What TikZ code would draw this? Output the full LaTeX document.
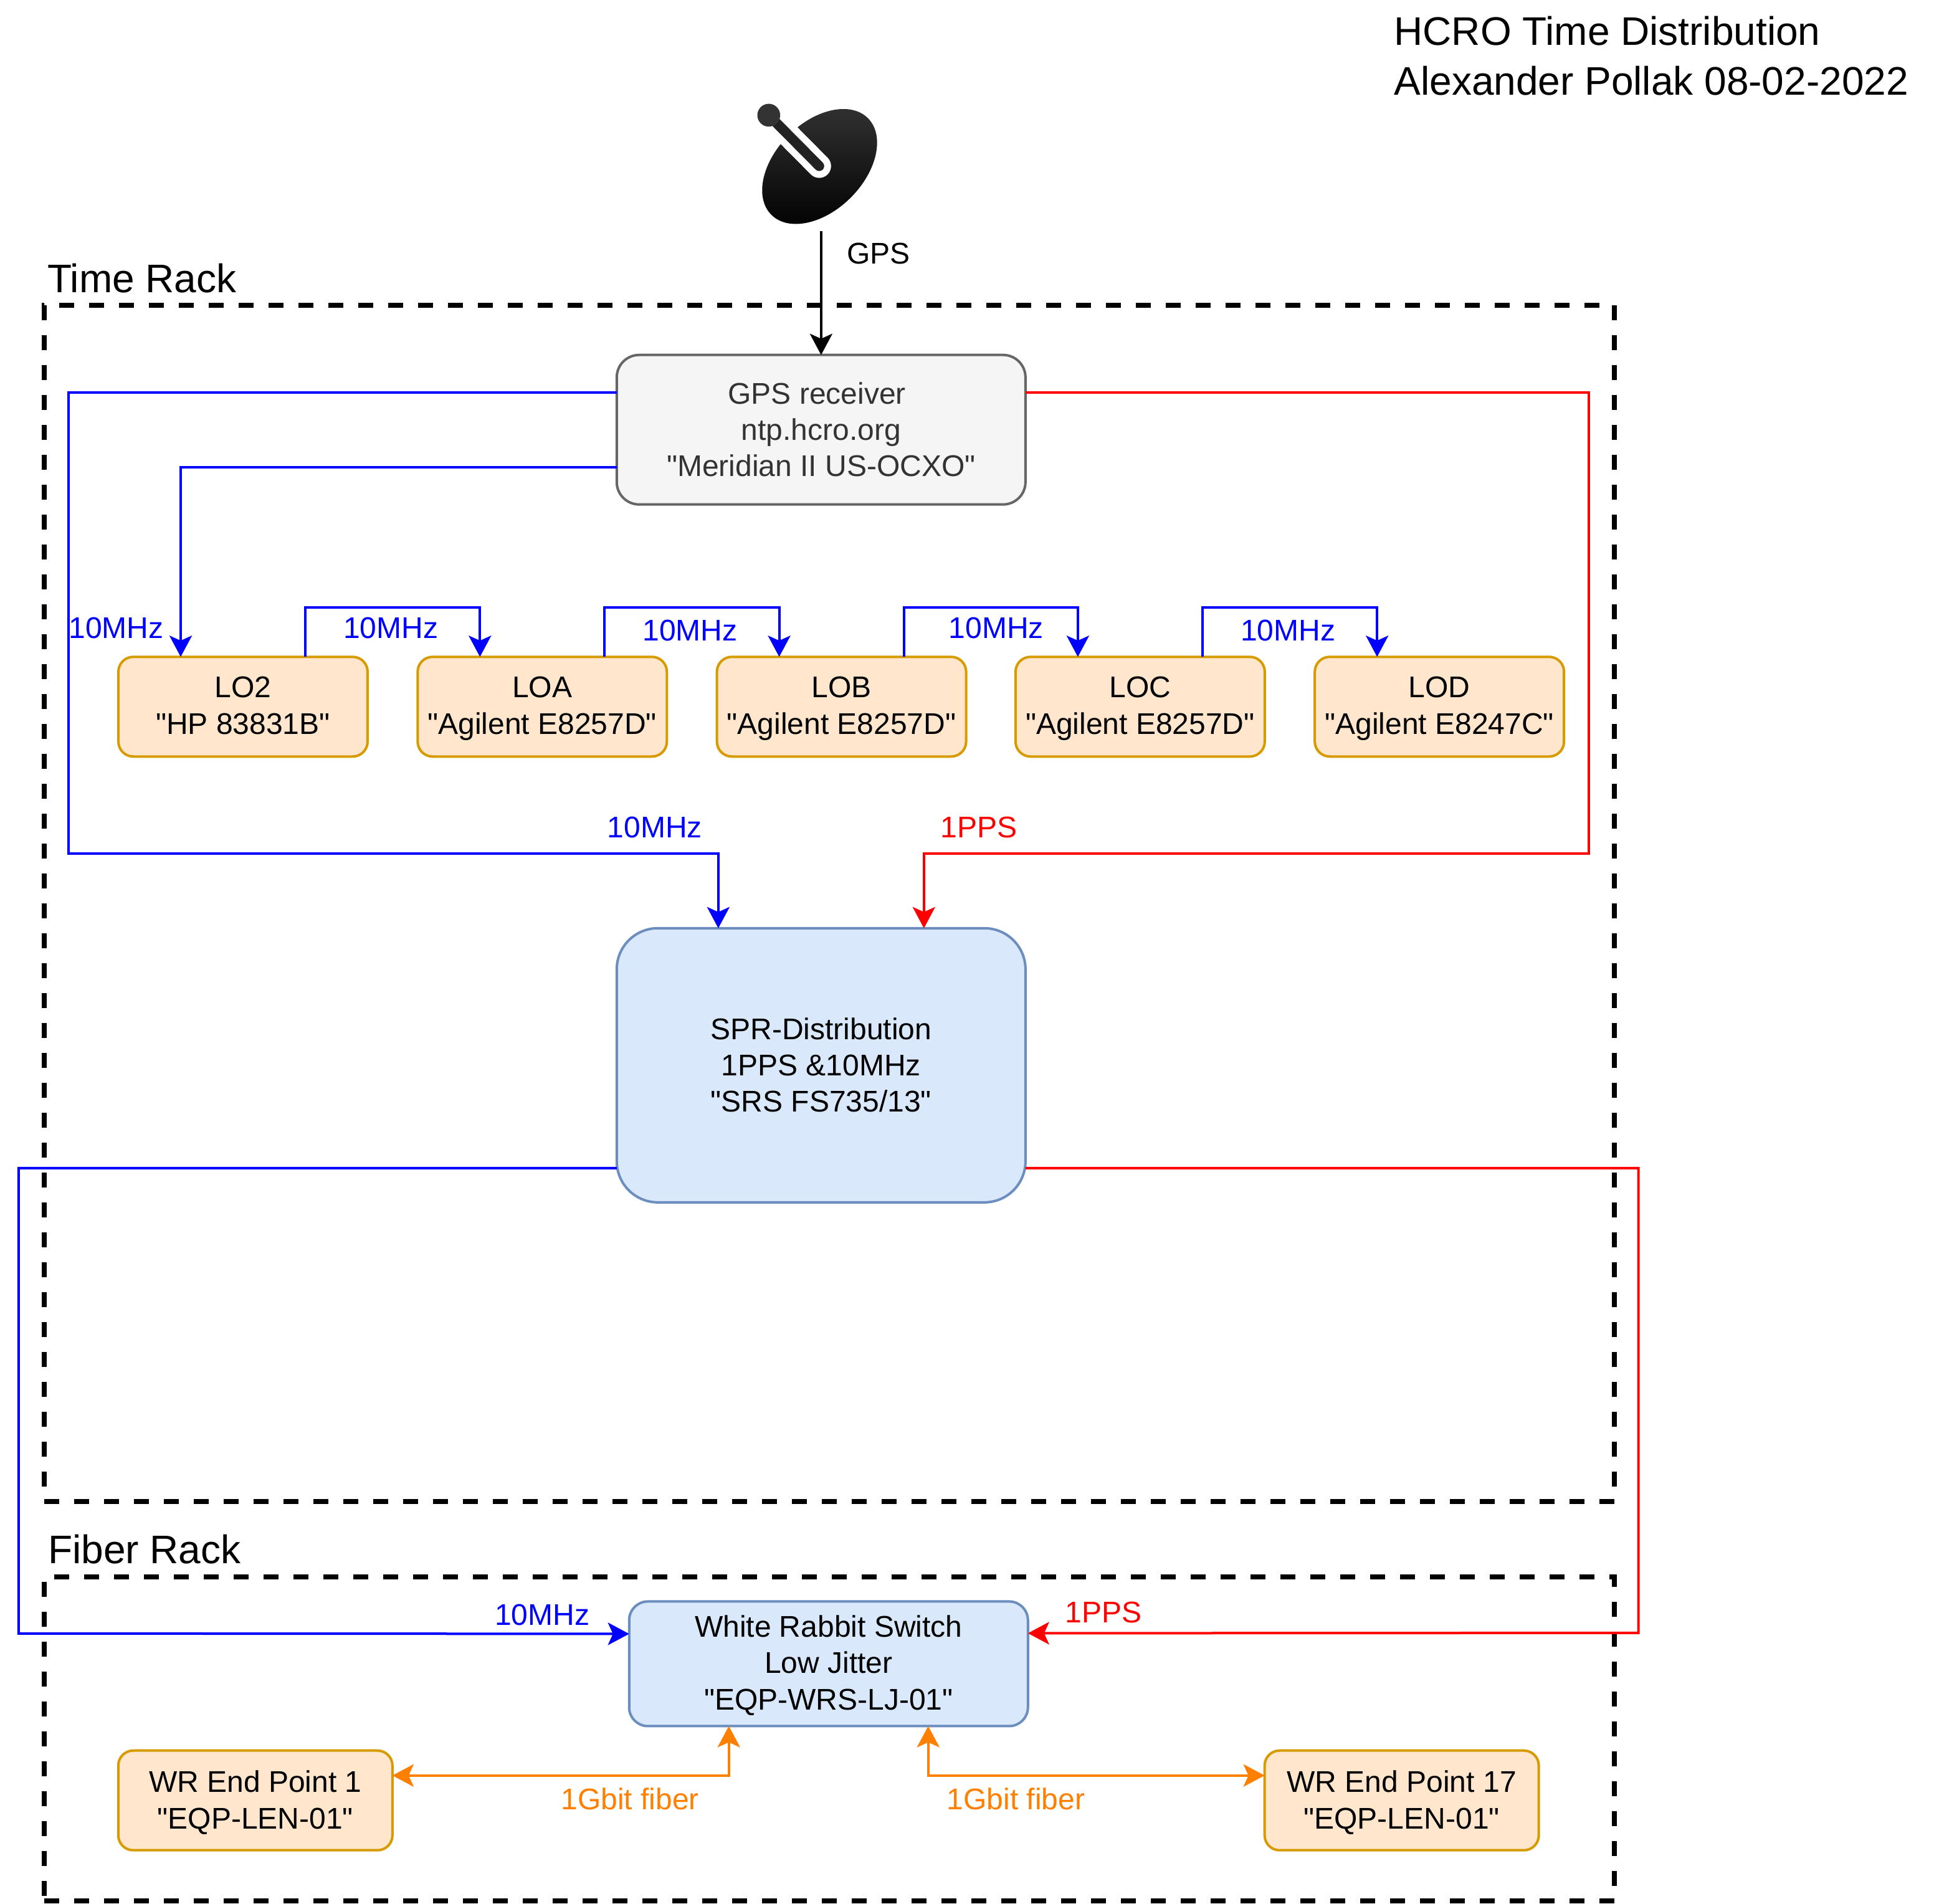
\documentclass[tikz,border=0pt]{standalone}
\usepackage{fontspec}
\setmainfont{Liberation Sans}[Ligatures=TeXOff]
\usetikzlibrary{arrows.meta}
\definecolor{dishtop}{HTML}{333333}
\definecolor{dishstick}{HTML}{222222}
\definecolor{fibercolor}{HTML}{FF8000}
\definecolor{grayfill}{HTML}{F5F5F5}
\definecolor{graydraw}{HTML}{666666}
\definecolor{graytext}{HTML}{333333}
\definecolor{loadfill}{HTML}{FFE6CC}
\definecolor{loaddraw}{HTML}{D79B00}
\definecolor{distfill}{HTML}{DAE8FC}
\definecolor{distdraw}{HTML}{6C8EBF}
\tikzstyle{rack} = [rectangle, draw=black, line width=2pt, dash pattern=on 6pt off 6pt, outer sep=0pt, minimum width=630pt]
\tikzstyle{receiver} = [rectangle, rounded corners=9pt, minimum width=164pt, minimum height=60pt, align=center, draw=graydraw, line width=1pt, fill=grayfill, text=graytext, outer sep=0pt, inner sep=0pt, font=\fontsize{12}{14.5}\selectfont]
\tikzstyle{synth} = [rectangle, rounded corners=6pt, minimum width=100pt, minimum height=40pt, align=center, draw=loaddraw, line width=1pt, fill=loadfill, outer sep=0pt, inner sep=0pt, text depth=1pt, font=\fontsize{12}{14.8}\selectfont]
\tikzstyle{endpoint} = [synth, minimum width=110pt, text depth=0.5pt]
\tikzstyle{dist} = [rectangle, rounded corners=16.5pt, minimum width=164pt, minimum height=110pt, align=center, draw=distdraw, line width=1pt, fill=distfill, outer sep=0pt, inner sep=0pt, font=\fontsize{12}{14.5}\selectfont]
\tikzstyle{wrswitch} = [dist, rounded corners=7.5pt, minimum width=160pt, minimum height=50pt, text depth=1pt, font=\fontsize{12}{14.7}\selectfont]
\tikzstyle{lbl} = [inner sep=0pt, font=\fontsize{12}{14.5}\selectfont]
\tikzstyle{bigtext} = [inner sep=0pt, anchor=west, align=left, font=\fontsize{16}{20}\selectfont]
\tikzstyle{arrow} = [line width=1pt, -{Stealth[length=8.5pt,width=9pt,inset=2pt]}]
\tikzstyle{bluearrow} = [arrow, draw=blue]
\tikzstyle{redarrow} = [arrow, draw=red]
\tikzstyle{fiberarrow} = [line width=1pt, draw=fibercolor, {Stealth[length=8.5pt,width=9pt,inset=2pt]}-{Stealth[length=8.5pt,width=9pt,inset=2pt]}]

\begin{document}
\begin{tikzpicture}[x=0.49617pt, y=-0.49617pt]
\useasboundingbox (0,0) rectangle (1568,1539.7);

\node (titletext) [bigtext] at (1127,45) {HCRO Time Distribution\\Alexander Pollak 08-02-2022};
\node (timelabel) [bigtext] at (38,225) {Time Rack};
\node (fiberlabel) [bigtext] at (38.5,1253) {Fiber Rack};

\node (timerack) [rack, minimum height=480pt] at (670.5,730.5) {};
\node (fiberrack) [rack, minimum height=130pt] at (670.5,1406) {};

\begin{scope}[shift={(584.4,70.5)}, x=0.0833pt, y=-0.0833pt]
\shade [top color=dishtop, bottom color=black] (467,382) ellipse [x radius=329, y radius=212, rotate=45];
\draw [white, line width=9.5pt, line cap=round] (222,135) -- (465,380);
\draw [dishstick, line width=4pt, line cap=round] (222,135) -- (465,380);
\fill [dishtop] (222,135) circle (55);
\end{scope}
\coordinate (dishout) at (664,187);

\node (gps) [receiver] at (664,347.5) {GPS receiver\kern3.33pt\\ntp.hcro.org\\"Meridian II US-OCXO"};
\node (lo2) [synth] at (196.5,571.5) {LO2\\"HP 83831B"};
\node (loa) [synth] at (438.5,571.5) {LOA\\"Agilent E8257D"};
\node (lob) [synth] at (680.5,571.5) {LOB\\"Agilent E8257D"};
\node (loc) [synth] at (922,571.5) {LOC\\"Agilent E8257D"};
\node (lod) [synth] at (1164,571.5) {LOD\\"Agilent E8247C"};
\node (spr) [dist] at (664,861.5) {SPR-Distribution\\1PPS \&10MHz\\"SRS FS735/13"};
\node (wrs) [wrswitch] at (670,1345.5) {White Rabbit Switch\\Low Jitter\\"EQP-WRS-LJ-01"};
\node (ep1) [endpoint] at (206.5,1456) {WR End Point 1\\"EQP-LEN-01"};
\node (ep17) [endpoint] at (1133.5,1456) {WR End Point 17\\"EQP-LEN-01"};

\draw [arrow] (dishout) -- (gps.north);
\draw [bluearrow] ([yshift=15pt]gps.west) -| (55.5,690.3) -| ([xshift=-41.25pt]spr.north);
\draw [bluearrow] ([yshift=-15pt]gps.west) -| ([xshift=-25pt]lo2.north);
\draw [redarrow] ([yshift=15pt]gps.east) -| (1285,690.3) -| ([xshift=41.25pt]spr.north);
\draw [bluearrow] ([xshift=25pt]lo2.north) -- ++(0,-40) -| ([xshift=-25pt]loa.north);
\draw [bluearrow] ([xshift=25pt]loa.north) -- ++(0,-40) -| ([xshift=-25pt]lob.north);
\draw [bluearrow] ([xshift=25pt]lob.north) -- ++(0,-40) -| ([xshift=-25pt]loc.north);
\draw [bluearrow] ([xshift=25pt]loc.north) -- ++(0,-40) -| ([xshift=-25pt]lod.north);
\draw [bluearrow] ([yshift=-41.25pt]spr.west) -| (15,1321) -- ([yshift=12pt]wrs.west);
\draw [redarrow] ([yshift=-41.25pt]spr.east) -| (1325,1320.5) -- ([yshift=12.25pt]wrs.east);
\draw [fiberarrow] ([xshift=-40pt]wrs.south) |- ([yshift=10pt]ep1.east);
\draw [fiberarrow] ([xshift=40pt]wrs.south) |- ([yshift=10pt]ep17.west);

\node (lblgps) [lbl] at (710.5,205) {GPS};
\node (lblb1) [lbl, text=blue] at (94,508) {10MHz};
\node (lblb2) [lbl, text=blue] at (316,508) {10MHz};
\node (lblb3) [lbl, text=blue] at (558,510) {10MHz};
\node (lblb4) [lbl, text=blue] at (805.5,508) {10MHz};
\node (lblb5) [lbl, text=blue] at (1041.5,510) {10MHz};
\node (lblb6) [lbl, text=blue] at (529.5,669) {10MHz};
\node (lblr1) [lbl, text=red] at (791.5,669) {1PPS};
\node (lblb7) [lbl, text=blue] at (438.5,1306) {10MHz};
\node (lblr2) [lbl, text=red] at (892.5,1304) {1PPS};
\node (lblf1) [lbl, text=fibercolor] at (509.5,1455) {1Gbit fiber};
\node (lblf2) [lbl, text=fibercolor] at (821.5,1455) {1Gbit fiber};

\end{tikzpicture}
\end{document}
